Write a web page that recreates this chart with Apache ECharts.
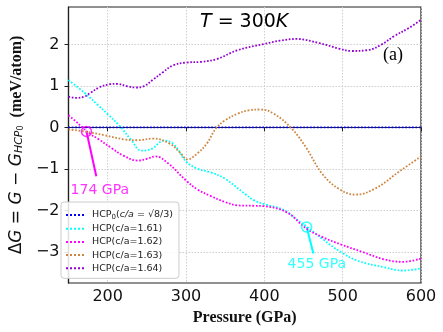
<!DOCTYPE html>
<html><head><meta charset="utf-8">
<script src="https://cdn.jsdelivr.net/npm/echarts@6/dist/echarts.min.js"></script>
<style>html,body{margin:0;padding:0;background:#fff}#c{width:443px;height:332px}</style>
</head><body><div id="c"></div>
<script>
// ---- data ----
const pressureTicks = [200, 300, 400, 500, 600];
const gTicks = [-3, -2, -1, 0, 1, 2];

const p160 = [150, 600];
const g160 = [0, 0];

const p161 = [150,170,188,200,215,230,243,256,272,285,300,315,331,350,375,387,400,425,440,454,475,499,520,553,577,600];
const g161 = [1.14,0.84,0.53,0.32,0.04,-0.3,-0.56,-0.52,-0.32,-0.42,-0.82,-1.0,-1.08,-1.24,-1.6,-1.76,-1.85,-1.99,-2.2,-2.39,-2.7,-3.02,-3.22,-3.37,-3.45,-3.4];

const p162 = [150,159,167,177,188,205,220,238,250,261,278,300,315,331,350,366,387,400,429,453,475,499,525,553,577,600];
const g162 = [0.29,0.15,0.01,-0.15,-0.28,-0.5,-0.68,-0.8,-0.76,-0.7,-0.88,-1.28,-1.5,-1.65,-1.8,-1.88,-1.89,-1.9,-2.05,-2.43,-2.65,-2.83,-3.0,-3.18,-3.24,-3.16];

const p163 = [150,171,196,221,238,258,280,292,302,315,327,338,350,366,380,395,412,435,453,474,495,516,541,574,600];
const g163 = [-0.05,-0.1,-0.19,-0.29,-0.31,-0.27,-0.4,-0.6,-0.77,-0.62,-0.38,-0.03,0.17,0.33,0.41,0.43,0.33,-0.03,-0.48,-1.12,-1.48,-1.62,-1.48,-1.04,-0.7];

const p164 = [150,160,170,178,189,203,212,225,236,246,258,270,283,300,320,340,366,400,420,441,470,495,511,532,550,565,585,600];
const g164 = [0.74,0.71,0.74,0.83,0.96,1.04,1.05,0.99,0.96,0.99,1.15,1.32,1.49,1.56,1.58,1.65,1.86,2.01,2.09,2.13,2.03,1.9,1.84,1.86,2.0,2.19,2.4,2.59];

const seriesNames = ['HCP0', 'HCP(c/a=1.61)', 'HCP(c/a=1.62)', 'HCP(c/a=1.63)', 'HCP(c/a=1.64)'];
const seriesColors = ['#0000ff', '#00ffff', '#ff00ff', '#cd853f', '#9400d3'];

const mark174 = [173, -0.1];
const arrow174 = [185.5, -1.18];
const label174 = [190, -1.51];
const mark455 = [454, -2.4];
const arrow455 = [462.6, -3.04];
const label455 = [467, -3.3];

// ---- chart ----
const zip = (xs, ys) => xs.map((x, i) => [x, ys[i]]);
const dataSets = [zip(p160, g160), zip(p161, g161), zip(p162, g162), zip(p163, g163), zip(p164, g164)];
const minus = v => String(v).replace('-', '\u2212');
const dottedIcon = 'path://M0,0h2v2h-2zM4,0h2v2h-2zM8,0h2v2h-2zM12,0h2v2h-2zM16,0h2v2h-2z';

const lineSeries = dataSets.map((d, i) => ({
  name: seriesNames[i],
  type: 'line',
  data: d,
  smooth: 0.4,
  symbol: 'none',
  lineStyle: { color: seriesColors[i], width: 1.8, type: [1.7, 1.7] },
  itemStyle: { color: seriesColors[i] },
  z: 3 + i
}));

function annot(mark, arrow, label, text, color) {
  return [{
    type: 'scatter',
    data: [mark],
    symbol: 'circle',
    symbolSize: 10,
    itemStyle: { color: 'rgba(0,0,0,0)', borderColor: color, borderWidth: 1.5 },
    silent: true,
    z: 10,
    markLine: {
      silent: true,
      symbol: ['none', 'arrow'],
      symbolSize: [0, 10],
      label: { show: false },
      lineStyle: { color: color, width: 2, type: 'solid' },
      data: [[{ coord: mark }, { coord: arrow }]]
    }
  }, {
    type: 'scatter',
    data: [label],
    symbolSize: 1,
    itemStyle: { color: 'rgba(0,0,0,0)' },
    silent: true,
    z: 11,
    label: {
      show: true, position: 'inside', formatter: text,
      color: color, fontSize: 14, fontFamily: 'DejaVu Sans'
    }
  }];
}

const chart = echarts.init(document.getElementById('c'), null, { renderer: 'canvas' });
chart.setOption({
  animation: false,
  backgroundColor: '#fff',
  grid: { left: 59, right: 22, top: 7, bottom: 49, show: true, borderColor: '#222', borderWidth: 1.2, containLabel: false },
  xAxis: {
    type: 'value', min: 150, max: 600,
    name: 'Pressure (GPa)', nameLocation: 'middle', nameGap: 25,
    nameTextStyle: { fontFamily: 'Liberation Serif', fontWeight: 'bold', fontSize: 16, color: '#111' },
    axisLine: { show: true, lineStyle: { color: '#222', width: 1.2 } },
    axisTick: { show: true, length: 4, lineStyle: { color: '#222' }, customValues: pressureTicks },
    axisLabel: { customValues: pressureTicks, fontFamily: 'DejaVu Sans', fontSize: 16, color: '#111', margin: 6 },
    splitLine: { show: true, lineStyle: { color: '#cfcfcf', width: 1, type: [1.5, 1.5] } }
  },
  yAxis: {
    type: 'value', min: -3.75, max: 2.9,
    name: '{u|Δ}{i|G}{u| = }{i|G}{u| − }{i|G}{s|HCP}{z|0}{b|  (meV/atom)}',
    nameLocation: 'middle', nameGap: 36, nameRotate: 90,
    nameTextStyle: {
      color: '#111',
      rich: {
        u: { fontFamily: 'DejaVu Sans', fontSize: 17, color: '#111' },
        i: { fontFamily: 'DejaVu Sans', fontStyle: 'italic', fontSize: 17, color: '#111' },
        s: { fontFamily: 'DejaVu Sans', fontStyle: 'italic', fontSize: 11, color: '#111', verticalAlign: 'bottom', padding: [6, 0, 0, 0] },
        z: { fontFamily: 'DejaVu Sans', fontSize: 8, color: '#111', verticalAlign: 'bottom', padding: [8, 0, 0, 0] },
        b: { fontFamily: 'Liberation Serif', fontWeight: 'bold', fontSize: 16, color: '#111' }
      }
    },
    axisLine: { show: true, lineStyle: { color: '#222', width: 1.2 } },
    axisTick: { show: true, length: 4, lineStyle: { color: '#222' }, customValues: gTicks },
    axisLabel: { customValues: gTicks, fontFamily: 'DejaVu Sans', fontSize: 16, color: '#111', margin: 9, formatter: minus },
    splitLine: { show: true, lineStyle: { color: '#cfcfcf', width: 1, type: [1.5, 1.5] } }
  },
  legend: {
    data: seriesNames,
    icon: dottedIcon,
    orient: 'vertical', left: 61, top: 202,
    padding: [8, 6, 5, 5],
    itemWidth: 18, itemHeight: 2, itemGap: 3.2,
    backgroundColor: 'rgba(255,255,255,0.85)',
    borderColor: '#cccccc', borderWidth: 1, borderRadius: 3,
    textStyle: {
      fontFamily: 'DejaVu Sans', fontSize: 9.5, color: '#222', padding: [0, 0, 0, 3],
      rich: {
        t: { fontFamily: 'DejaVu Sans', fontSize: 9.5, color: '#222' },
        i: { fontFamily: 'DejaVu Sans', fontStyle: 'italic', fontSize: 9.5, color: '#222' },
        s: { fontFamily: 'DejaVu Sans', fontSize: 7, color: '#222', verticalAlign: 'bottom', padding: [4, 0, 0, 0] }
      }
    },
    formatter: name => name === 'HCP0' ? '{t|HCP}{s|0}{t|(}{i|c/a}{t| = √8/3)}' : name
  },
  graphic: [
    {
      type: 'text', left: 200, top: 13, z: 20,
      style: {
        text: '{i|T}{u| = 300}{i|K}',
        rich: {
          i: { fontFamily: 'DejaVu Sans', fontStyle: 'italic', fontSize: 19, fill: '#000' },
          u: { fontFamily: 'DejaVu Sans', fontSize: 19, fill: '#000' }
        }
      }
    },
    {
      type: 'text', right: 40, top: 46, z: 20,
      style: { text: '(a)', font: '18px "Liberation Serif"', fill: '#000' }
    }
  ],
  series: lineSeries
    .concat(annot(mark174, arrow174, label174, '174 GPa', '#ff00ff'))
    .concat(annot(mark455, arrow455, label455, '455 GPa', '#00ffff'))
});
</script></body></html>
